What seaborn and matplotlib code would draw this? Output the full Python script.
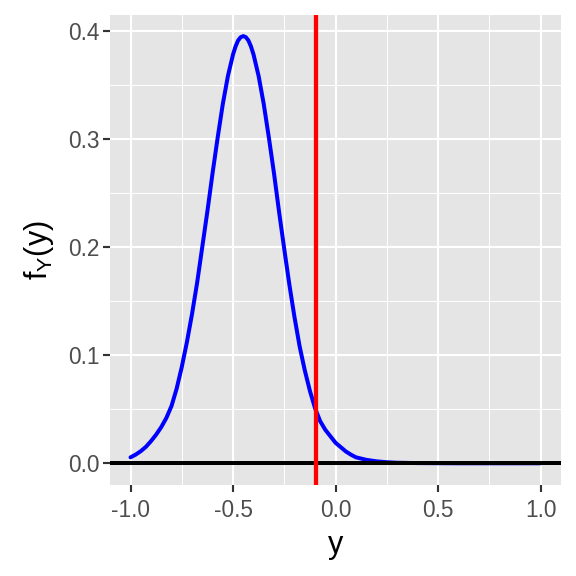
import numpy as np
import pandas as pd
import matplotlib
matplotlib.use("Agg")
import matplotlib.pyplot as plt
import seaborn as sns

# Density curve values
y_vals = [-1.000, -0.975, -0.950, -0.925, -0.900, -0.875, -0.850, -0.825,
          -0.800, -0.775, -0.750, -0.725, -0.700, -0.675, -0.650, -0.625,
          -0.600, -0.575, -0.550, -0.525, -0.500, -0.4875, -0.475, -0.4625,
          -0.450, -0.4375, -0.425, -0.4125, -0.400, -0.375, -0.350, -0.325,
          -0.300, -0.275, -0.250, -0.225, -0.200, -0.175, -0.150, -0.125,
          -0.100, -0.075, -0.050, -0.025, 0.000, 0.025, 0.050, 0.075,
          0.100, 0.150, 0.200, 0.250, 0.300, 0.400, 0.500, 0.600,
          0.700, 0.800, 0.900, 1.000]
f_vals = [0.0055, 0.008, 0.0112, 0.0152, 0.0205, 0.0265, 0.0335, 0.042,
          0.053, 0.069, 0.089, 0.112, 0.138, 0.167, 0.200, 0.233,
          0.268, 0.301, 0.332, 0.358, 0.378, 0.3855, 0.391, 0.394,
          0.395, 0.394, 0.391, 0.3855, 0.378, 0.358, 0.332, 0.301,
          0.268, 0.232, 0.198, 0.165, 0.135, 0.108, 0.086, 0.067,
          0.051, 0.039, 0.031, 0.025, 0.019, 0.015, 0.011, 0.008,
          0.0055, 0.0032, 0.0018, 0.0010, 0.0005, 0.0002, 0.0001, 0.0,
          0.0, 0.0, 0.0, 0.0]
cutoff = -0.095
x_ticks = [-1.0, -0.5, 0.0, 0.5, 1.0]
y_ticks = [0.0, 0.1, 0.2, 0.3, 0.4]

df = pd.DataFrame({"y": y_vals, "f": f_vals})

sns.set_theme(style="darkgrid", rc={
    "axes.facecolor": "#E5E5E5",
    "grid.color": "white",
    "axes.edgecolor": "none",
})
plt.rcParams["font.family"] = ["Liberation Sans", "DejaVu Sans"]
plt.rcParams["mathtext.default"] = "regular"

fig = plt.figure(figsize=(6, 6), dpi=96)
ax = fig.add_axes([0.191, 0.1585, 0.783, 0.816])

sns.lineplot(data=df, x="y", y="f", ax=ax, color="blue", linewidth=3.0, zorder=3)
ax.axhline(0, color="black", linewidth=3.0, zorder=4)
ax.axvline(cutoff, color="red", linewidth=3.2, zorder=5)

ax.set_xlim(-1.1, 1.1)
ax.set_ylim(-0.0198, 0.4148)
ax.set_xticks(x_ticks)
ax.set_xticklabels([f"{t:.1f}" for t in x_ticks])
ax.set_yticks(y_ticks)
ax.set_yticklabels([f"{t:.1f}" for t in y_ticks])
ax.set_xticks([-0.75, -0.25, 0.25, 0.75], minor=True)
ax.set_yticks([0.05, 0.15, 0.25, 0.35], minor=True)
ax.grid(which="major", color="white", linewidth=1.6)
ax.grid(which="minor", color="white", linewidth=0.8)
ax.tick_params(which="major", length=5, width=1.6, color="#333333",
               labelsize=17, labelcolor="#4D4D4D", pad=3, bottom=True, left=True)
ax.tick_params(axis="x", which="major", pad=6)
ax.tick_params(which="minor", length=0)

ax.set_xlabel("y", fontsize=23, labelpad=6, color="black")
ax.set_ylabel("f$_Y$(y)", fontsize=23, labelpad=9, color="black")
for s in ax.spines.values():
    s.set_visible(False)

fig.savefig("out.png", dpi=96)
